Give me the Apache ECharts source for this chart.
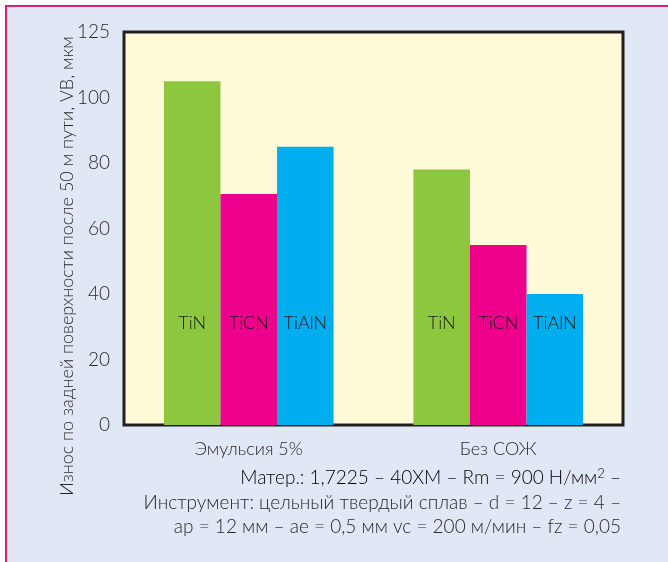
<!DOCTYPE html>
<html><head><meta charset="utf-8">
<script src="https://cdn.jsdelivr.net/npm/echarts@6/dist/echarts.min.js"></script>
<style>html,body{margin:0;padding:0;background:#fff}#c{width:668px;height:562px}</style>
</head><body><div id="c"></div>
<script>
const categories = ['Эмульсия 5%', 'Без СОЖ'];
const seriesNames = ['TiN', 'TiCN', 'TiAlN'];
const valTiN = [105, 78];
const valTiCN = [70.5, 55];
const valTiAlN = [85, 40];
const yTickLabels = {0:'0',20:'20',40:'40',60:'60',80:'80',100:'100',120:'125'};
const yTitle = 'Износ по задней поверхности после 50 м пути, VB, мкм';
const note1 = 'Матер.: 1,7225 – 40ХМ – Rm = 900 Н/мм';
const note2 = 'Инструмент: цельный твердый сплав – d = 12 – z = 4 –';
const note3 = 'ap = 12 мм – ae = 0,5 мм vc = 200 м/мин – fz = 0,05';

const FONT = 'Lato';
const TXT = '#2a2627';
const colors = ['#8DC63F', '#EC008C', '#00AEEF'];
const vals = [valTiN, valTiCN, valTiAlN];

const chart = echarts.init(document.getElementById('c'), null, {renderer:'canvas'});
chart.setOption({
  backgroundColor: '#ffffff',
  textStyle: {fontFamily: FONT, fontWeight: 300},
  animation: false,
  grid: {left: 124, top: 32, right: 45, bottom: 137, show: true, backgroundColor: '#FEF9D7', borderColor: '#231F20', borderWidth: 3, z: 1},
  xAxis: {
    type: 'category', data: categories,
    axisLine: {show: false}, axisTick: {show: false},
    axisLabel: {fontFamily: FONT, fontWeight: 300, fontSize: 18, color: TXT, margin: 15},
    splitLine: {show: true, interval: 0, lineStyle: {color: '#8C8270', width: 2}}
  },
  yAxis: {
    type: 'value', min: 0, max: 120, interval: 20,
    axisLine: {show: false}, axisTick: {show: false},
    axisLabel: {fontFamily: FONT, fontWeight: 300, fontSize: 19, color: TXT, margin: 14, formatter: v => yTickLabels[v]},
    splitLine: {show: true, lineStyle: {color: ['#231F20','#8C8270','#231F20','#231F20','#8C8270','#231F20','#231F20'], width: 1.5}}
  },
  graphic: [
    {type: 'rect', z: -10, shape: {x: 6, y: 6, width: 700, height: 600}, style: {fill: '#E1E8F5', stroke: '#D6246E', lineWidth: 2}},
    {type: 'text', x: 67, y: 266, rotation: Math.PI/2, z: 10,
      style: {text: yTitle, font: '300 18px ' + FONT, fill: TXT, align: 'center', verticalAlign: 'middle'}},
    {type: 'text', x: 621, y: 478, z: 10,
      style: {text: '{a|' + note1 + '}{s|2}{a| –}', align: 'right', verticalAlign: 'middle',
        rich: {a: {fontSize: 19, fontFamily: FONT, fontWeight: 300, color: TXT},
               s: {fontSize: 13, fontFamily: FONT, fontWeight: 300, color: TXT, verticalAlign: 'top', padding: [0,0,9,0]}}}},
    {type: 'text', x: 621, y: 503, z: 10,
      style: {text: note2, font: '300 19px ' + FONT, fill: TXT, align: 'right', verticalAlign: 'middle'}},
    {type: 'text', x: 621, y: 527, z: 10,
      style: {text: note3, font: '300 19px ' + FONT, fill: TXT, align: 'right', verticalAlign: 'middle'}}
  ],
  series: seriesNames.map((n, i) => ({
    name: n, type: 'bar', data: vals[i], barGap: '0%', barCategoryGap: '32%', z: 3,
    itemStyle: {color: colors[i]},
    label: {show: true, position: 'insideBottom', distance: 93, formatter: n, fontFamily: FONT, fontWeight: 300, fontSize: 18, color: '#1a1718'}
  }))
});
</script></body></html>
